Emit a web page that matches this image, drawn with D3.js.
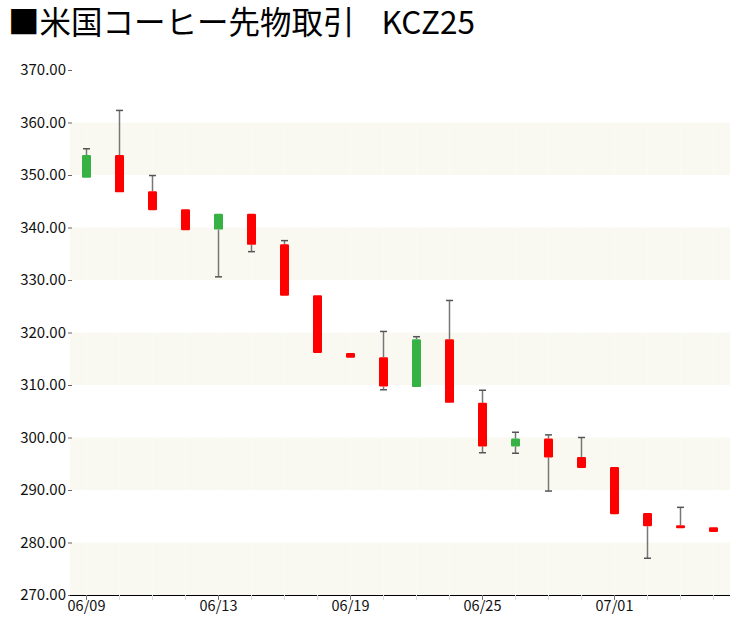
<!DOCTYPE html>
<html><head><meta charset="utf-8">
<script src="https://cdn.jsdelivr.net/npm/d3@7"></script>
<style>body{margin:0;background:#fff}svg{display:block}</style>
</head><body><svg id="c" width="750" height="625"></svg>
<script>
const dates = ["06/09","06/10","06/11","06/12","06/13","06/16","06/17","06/18","06/19","06/20","06/23","06/24","06/25","06/26","06/27","06/30","07/01","07/02","07/03","07/07"];
const opens  = [349.5,353.8,346.9,343.5,339.6,342.6,336.8,327.1,316.1,315.3,309.6,318.7,306.6,298.3,299.8,296.3,294.4,285.6,283.3,282.9];
const highs  = [355.0,362.3,349.9,343.5,342.6,342.6,337.5,327.1,316.1,320.2,319.2,326.1,309.0,301.0,300.5,300.0,294.4,285.6,286.7,282.9];
const lows   = [349.5,346.7,343.3,339.5,330.6,335.4,327.0,316.1,315.2,309.1,309.6,306.6,297.1,297.0,289.8,294.2,285.4,277.0,282.8,282.0];
const closes = [353.8,346.7,343.3,339.5,342.6,336.7,327.0,316.1,315.2,309.7,318.7,306.6,298.3,299.8,296.2,294.2,285.4,283.1,282.8,282.0];
const yTicks = [270,280,290,300,310,320,330,340,350,360,370];
const xLabels = ["06/09","06/13","06/19","06/25","07/01"];
const titleMain = "■米国コーヒー先物取引";
const titleCode = "KCZ25";

const svg = d3.select("#c");
const font = "'Noto Sans CJK JP','Noto Sans',sans-serif";
const L = 70, R = 730, T = 70, B = 595;
const x = d3.scaleBand().domain(dates).range([L, R]);
const y = d3.scaleLinear().domain([270, 370]).range([B, T]);

const title = svg.append("text").attr("x", 8).attr("y", 34).attr("font-family", font)
  .attr("font-size", 31.5).attr("fill", "#000");
title.append("tspan").text(titleMain);
title.append("tspan").attr("dx", 27).text(titleCode);

// bands
for (let i = 0; i < yTicks.length - 1; i++) {
  if (i % 2 === 0) {
    svg.append("rect").attr("x", L).attr("width", R - L)
      .attr("y", y(yTicks[i + 1])).attr("height", y(yTicks[i]) - y(yTicks[i + 1]))
      .attr("fill", "#faf9f1");
  }
}
// faint vertical grid
svg.append("g").selectAll("line").data(dates).join("line")
  .attr("x1", d => x(d) + x.bandwidth() / 2).attr("x2", d => x(d) + x.bandwidth() / 2)
  .attr("y1", T).attr("y2", B).attr("stroke", "#fff").attr("stroke-opacity", 0.3);

// y axis
const ya = svg.append("g").attr("transform", `translate(${L + 2},0)`)
  .call(d3.axisLeft(y).tickValues(yTicks).tickFormat(d3.format(".2f")).tickSize(4).tickPadding(2));
ya.select(".domain").remove();
ya.selectAll("line").attr("stroke", "#666");
ya.selectAll("text").attr("font-family", font).attr("font-size", 15).attr("fill", "#111");

// x axis
const xa = svg.append("g").attr("transform", `translate(0,${B})`)
  .call(d3.axisBottom(x).tickSize(5).tickPadding(1).tickFormat(d => xLabels.includes(d) ? d : ""));
xa.select(".domain").attr("stroke", "#000").attr("d", `M${L},0.5H${R}`);
xa.selectAll(".tick line").attr("stroke", d => xLabels.includes(d) ? "#777" : "#ddd");
xa.selectAll("text").attr("font-family", font).attr("font-size", 14.5).attr("fill", "#111");

// candles
const data = dates.map((d, i) => ({d, o: opens[i], h: highs[i], l: lows[i], c: closes[i]}));
const cx = d => x(d.d) + x.bandwidth() / 2;
const bw = 9, cap = 7;
const g = svg.append("g");
data.forEach(d => {
  const top = Math.max(d.o, d.c), bot = Math.min(d.o, d.c);
  if (d.h > top + 0.05) {
    g.append("line").attr("x1", cx(d)).attr("x2", cx(d)).attr("y1", y(d.h)).attr("y2", y(top)).attr("stroke", "#777").attr("stroke-width", 1.5);
    g.append("line").attr("x1", cx(d) - cap / 2).attr("x2", cx(d) + cap / 2).attr("y1", y(d.h)).attr("y2", y(d.h)).attr("stroke", "#555").attr("stroke-width", 1.5);
  }
  if (d.l < bot - 0.05) {
    g.append("line").attr("x1", cx(d)).attr("x2", cx(d)).attr("y1", y(bot)).attr("y2", y(d.l)).attr("stroke", "#777").attr("stroke-width", 1.5);
    g.append("line").attr("x1", cx(d) - cap / 2).attr("x2", cx(d) + cap / 2).attr("y1", y(d.l)).attr("y2", y(d.l)).attr("stroke", "#555").attr("stroke-width", 1.5);
  }
  const up = d.c >= d.o;
  const h = Math.max(y(bot) - y(top), 3);
  g.append("rect").attr("x", cx(d) - bw / 2).attr("width", bw)
    .attr("y", y(top)).attr("height", h).attr("rx", 1.2)
    .attr("fill", up ? "#36b245" : "#ff0000");
});
</script></body></html>
